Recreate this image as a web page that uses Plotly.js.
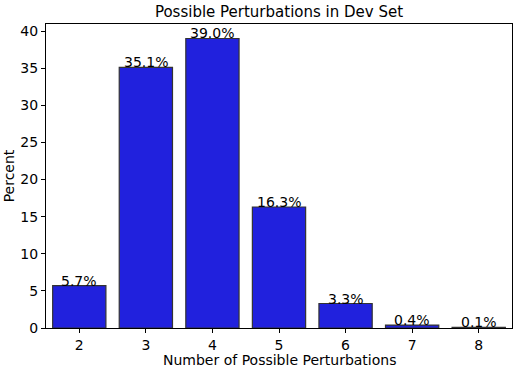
<!DOCTYPE html>
<html>
<head>
<meta charset="utf-8">
<script src="https://cdn.plot.ly/plotly-3.0.1.min.js"></script>
<style>
  html, body { margin: 0; padding: 0; background: #fff; }
  #chart { width: 516px; height: 368px; }
</style>
</head>
<body>
<div id="chart"></div>
<script>
var categories = ["2", "3", "4", "5", "6", "7", "8"];
var percents = [5.7, 35.1, 39.0, 16.3, 3.3, 0.4, 0.1];
var pctLabels = ["5.7%", "35.1%", "39.0%", "16.3%", "3.3%", "0.4%", "0.1%"];

var font = 'DejaVu Sans, sans-serif';

var trace = {
  x: categories,
  y: percents,
  type: 'bar',
  width: 0.8,
  hoverinfo: 'none',
  marker: {
    color: '#2121dd',
    line: { color: '#333333', width: 1.2 }
  }
};

// percentage text sitting on top of each bar (x as category index)
var notes = categories.map(function (c, i) {
  return {
    x: i, y: percents[i], xref: 'x', yref: 'y',
    text: pctLabels[i], showarrow: false,
    yanchor: 'bottom', yshift: -5,
    font: { family: font, size: 14, color: '#000' }
  };
});

// x axis title placed as a paper annotation so it sits lower, as in the original
notes.push({
  x: 0.5, y: 0, xref: 'paper', yref: 'paper',
  text: 'Number of Possible Perturbations', showarrow: false,
  xanchor: 'center', yanchor: 'top', yshift: -22,
  font: { family: font, size: 14, color: '#000' }
});

var layout = {
  width: 516,
  height: 368,
  margin: { l: 46, r: 4, t: 24, b: 40 },
  paper_bgcolor: '#fff',
  plot_bgcolor: '#fff',
  font: { family: font, size: 14, color: '#000' },
  title: {
    text: 'Possible Perturbations in Dev Set',
    font: { family: font, size: 15, color: '#000' },
    xref: 'paper', x: 0.5, xanchor: 'center',
    yref: 'paper', y: 1, yanchor: 'bottom', pad: { b: 7 }
  },
  xaxis: {
    type: 'category',
    range: [-0.5, 6.5],
    showline: true, mirror: true, linecolor: '#000', linewidth: 1,
    ticks: 'outside', ticklen: 4, tickcolor: '#000',
    showgrid: false, zeroline: false,
    tickfont: { family: font, size: 14 }
  },
  yaxis: {
    range: [0, 40.95],
    tickvals: [0, 5, 10, 15, 20, 25, 30, 35, 40],
    showline: true, mirror: true, linecolor: '#000', linewidth: 1,
    ticks: 'outside', ticklen: 4, tickcolor: '#000',
    showgrid: false, zeroline: false,
    tickfont: { family: font, size: 14 },
    title: { text: 'Percent', font: { family: font, size: 14 }, standoff: 2 }
  },
  annotations: notes,
  showlegend: false
};

Plotly.newPlot('chart', [trace], layout, { displayModeBar: false, staticPlot: true });
</script>
</body>
</html>
